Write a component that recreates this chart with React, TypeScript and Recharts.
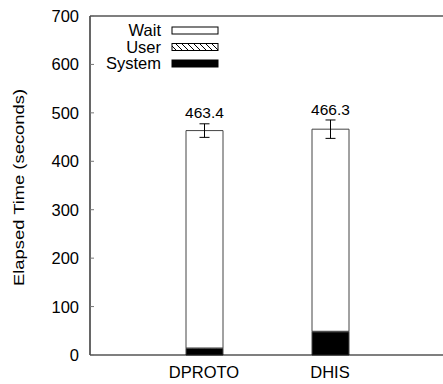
import React from "react";
import { BarChart, Bar, XAxis, YAxis, ErrorBar, LabelList, Legend, ReferenceLine } from "recharts";

const FONT = "'Liberation Sans', Arial, Helvetica, sans-serif";

const systems = ["DPROTO", "DHIS"];
const totalTime = [463.4, 466.3];
const systemTime = [14, 48];
const userTime = [0.5, 1];
const errTime = [14, 19];
const yTicks = [0, 100, 200, 300, 400, 500, 600, 700];

const rows = systems.map((name, i) => ({
  name,
  system: systemTime[i],
  user: userTime[i],
  wait: totalTime[i] - systemTime[i] - userTime[i],
  total: totalTime[i],
  err: errTime[i],
}));

function YTick({ x, y, payload }: any) {
  return (
    <g>
      <text x={x} y={y} dy="0.36em" textAnchor="end" fontSize={16.5} fill="#000" fontFamily={FONT}>
        {payload.value}
      </text>
      <line x1={x + 11} x2={x + 15} y1={y} y2={y} stroke="#777" strokeWidth={1} />
    </g>
  );
}

function YTitle({ viewBox }: any) {
  const cx = viewBox.x + 18;
  const cy = viewBox.y + viewBox.height / 2 + 2;
  return (
    <text
      x={cx}
      y={cy}
      transform={`rotate(-90 ${cx} ${cy})`}
      textAnchor="middle"
      dominantBaseline="central"
      fontSize={15}
      textLength={197}
      lengthAdjust="spacingAndGlyphs"
      fontFamily={FONT}
      fill="#000"
    >
      Elapsed Time (seconds)
    </text>
  );
}

function TotalLabel({ x, y, width, height, value, index }: any) {
  const pxPerSec = height / rows[index].wait;
  const ty = y - rows[index].err * pxPerSec - 11;
  return (
    <text x={x + width / 2} y={ty} dy="0.36em" textAnchor="middle" fontSize={15.5} fontFamily={FONT} fill="#000">
      {value.toFixed(1)}
    </text>
  );
}

// key box in the upper-left corner, listed top-down as Wait / User / System
function KeyBox({ payload }: any) {
  const items = [...(payload ?? [])].reverse();
  return (
    <svg width={230} height={80} style={{ display: "block" }}>
      {items.map((it: any, i: number) => {
        const cy = 30.5 + i * 16.5;
        return (
          <g key={it.value}>
            <text x={161} y={cy} dy="0.36em" textAnchor="end" fontSize={16.5} fontFamily={FONT} fill="#000">
              {it.value}
            </text>
            <rect x={172} y={cy - 3.5} width={46} height={7} fill={it.color} stroke="#000" strokeWidth={1} />
          </g>
        );
      })}
    </svg>
  );
}

export default function App() {
  return (
    <div style={{ position: "fixed", left: 0, top: 0, background: "#fff", width: 443, height: 384, overflow: "hidden" }}>
      {/* chart is a bit wider than the frame shown; the right border falls outside */}
      <BarChart
        width={450}
        height={384}
        data={rows}
        margin={{ top: 16, right: 3, left: 0, bottom: 0 }}
        style={{ fontFamily: FONT }}
      >
        <defs>
          <pattern id="hatch" patternUnits="userSpaceOnUse" width={6} height={6}>
            <rect width={6} height={6} fill="#fff" />
            <path d="M0,0 L6,6 M-1,5 L1,7 M5,-1 L7,1" stroke="#000" strokeWidth={1} />
          </pattern>
        </defs>
        <XAxis
          dataKey="name"
          height={29}
          padding={{ left: 51, right: 54 }}
          tickLine={false}
          tickSize={0}
          tickMargin={11}
          axisLine={{ stroke: "#000", strokeWidth: 1.2 }}
          tick={{ fontSize: 16.5, fill: "#000", fontFamily: FONT }}
        />
        <YAxis
          width={90}
          domain={[0, 700]}
          ticks={yTicks}
          interval={0}
          tickLine={false}
          tickSize={0}
          tickMargin={11}
          axisLine={{ stroke: "#000", strokeWidth: 1.2 }}
          tick={<YTick />}
          label={{ content: <YTitle /> }}
        />
        <ReferenceLine y={700} stroke="#000" strokeWidth={1.2} />
        <Legend
          layout="horizontal"
          verticalAlign="middle"
          align="center"
          content={<KeyBox />}
          wrapperStyle={{ position: "absolute", left: 0, top: 0, width: 230, height: 80 }}
        />
        <Bar dataKey="system" name="System" stackId="t" barSize={37} fill="#000" stroke="#444" isAnimationActive={false} />
        <Bar dataKey="user" name="User" stackId="t" barSize={37} fill="url(#hatch)" stroke="#444" isAnimationActive={false} />
        <Bar dataKey="wait" name="Wait" stackId="t" barSize={37} fill="#fff" stroke="#444" isAnimationActive={false}>
          <ErrorBar dataKey="err" width={5} stroke="#000" strokeWidth={1} direction="y" />
          <LabelList dataKey="total" content={<TotalLabel />} />
        </Bar>
      </BarChart>
      {/* keep the right-hand strip of the plot open (no right border) */}
      <div style={{ position: "absolute", left: 437, top: 18, width: 6, height: 335, background: "#fff" }} />
    </div>
  );
}
